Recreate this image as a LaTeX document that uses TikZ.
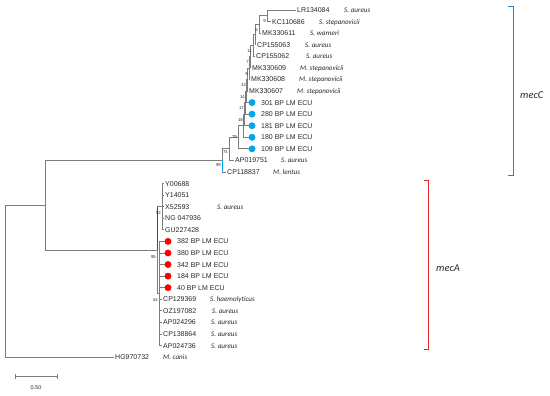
\documentclass[tikz,border=0pt]{standalone}
\usepackage{fontspec}
\setmainfont{Liberation Sans}
\newfontfamily\spfont{Carlito}
\definecolor{treegray}{RGB}{125,125,125}
\definecolor{dotblue}{RGB}{0,166,235}
\definecolor{brblue}{RGB}{35,130,215}
\definecolor{brred}{RGB}{235,35,35}
\definecolor{txt}{RGB}{40,40,40}
\tikzset{
  br/.style={draw=treegray,line width=0.8pt},
  acc/.style={anchor=base west,inner sep=0pt,text=txt,font=\fontsize{7}{8}\selectfont},
  sp/.style={anchor=base west,inner sep=0pt,text=txt,font=\spfont\itshape\fontsize{7.1}{8}\selectfont},
  bs/.style={anchor=east,inner sep=0pt,text=txt,font=\fontsize{4.3}{5}\selectfont},
  dotb/.style={circle,fill=dotblue,inner sep=0pt,minimum size=6.6pt},
  dotr/.style={circle,fill=red,inner sep=0pt,minimum size=6.6pt},
  grp/.style={anchor=west,inner sep=0pt,text=txt,font=\spfont\itshape\fontsize{10.5}{12}\selectfont},
}
\begin{document}
\begin{tikzpicture}[x=1pt,y=-1pt]
\useasboundingbox (0,0) rectangle (550,396);
% ---------- internal nodes ----------
\coordinate (n1) at (267,15.79);
\coordinate (n2) at (259,24.46);
\coordinate (n3) at (255,34.59);
\coordinate (n4) at (253,45.43);
\coordinate (n5) at (250,56.64);
\coordinate (n6) at (249,68.03);
\coordinate (n7) at (247,79.51);
\coordinate (n8) at (246,91.03);
\coordinate (n9) at (245,102.58);
\coordinate (n10) at (244,114.14);
\coordinate (n11) at (243,125.71);
\coordinate (n12) at (238,137.27);
\coordinate (n13) at (229,148.84);
\coordinate (n14) at (222,160.41);
\coordinate (A) at (162,206.69);
\coordinate (B) at (159,293.47);
\coordinate (M) at (157,250.08);
\coordinate (N1) at (45,205.25);
\coordinate (R) at (5,281.18);
% ---------- leaf ends ----------
\coordinate (l0) at (296,10.00);
\coordinate (l1) at (271,21.57);
\coordinate (l2) at (261,33.14);
\coordinate (l3) at (256,44.71);
\coordinate (l4) at (255,56.28);
\coordinate (l5) at (251,67.85);
\coordinate (l6) at (250,79.42);
\coordinate (l7) at (248,90.99);
\node[dotb] (d8) at (252,102.56) {};
\node[dotb] (d9) at (252,114.13) {};
\node[dotb] (d10) at (252,125.70) {};
\node[dotb] (d11) at (252,137.27) {};
\node[dotb] (d12) at (252,148.84) {};
\coordinate (l13) at (234,160.41);
\coordinate (l14) at (226,171.98);
\coordinate (l15) at (164,183.55);
\coordinate (l16) at (164,195.12);
\coordinate (l17) at (164,206.69);
\coordinate (l18) at (164,218.26);
\coordinate (l19) at (164,229.83);
\node[dotr] (d20) at (168,241.40) {};
\node[dotr] (d21) at (168,252.97) {};
\node[dotr] (d22) at (168,264.54) {};
\node[dotr] (d23) at (168,276.11) {};
\node[dotr] (d24) at (168,287.68) {};
\coordinate (l25) at (162,299.25);
\coordinate (l26) at (162,310.82);
\coordinate (l27) at (162,322.39);
\coordinate (l28) at (162,333.96);
\coordinate (l29) at (162,345.53);
\coordinate (l30) at (114,357.10);
% ---------- branches ----------
\begin{scope}[on background layer/.style={}]
\draw[br] (n1) |- (l0) (n1) |- (l1);
\draw[br] (n2) |- (n1) (n2) |- (l2);
\draw[br] (n3) |- (n2) (n3) |- (l3);
\draw[br] (n4) |- (n3) (n4) |- (l4);
\draw[br] (n5) |- (n4) (n5) |- (l5);
\draw[br] (n6) |- (n5) (n6) |- (l6);
\draw[br] (n7) |- (n6) (n7) |- (l7);
\draw[br] (n8) |- (n7) (n8) |- (d8);
\draw[br] (n9) |- (n8) (n9) |- (d9);
\draw[br] (n10) |- (n9) (n10) |- (d10);
\draw[br] (n11) |- (n10) (n11) |- (d11);
\draw[br] (n12) |- (n11) (n12) |- (d12);
\draw[br] (n13) |- (n12) (n13) |- (l13);
\draw[br] (n14) |- (n13) (n14) |- (l14);
\draw[br] (N1) |- (n14) (N1) |- (M);
\draw[br] (R) |- (N1) (R) |- (l30);
\draw[br] (M) |- (A) (M) |- (B);
\draw[br] (A) |- (l15) (A) |- (l16) (A) |- (l17) (A) |- (l18) (A) |- (l19);
\draw[br] (B) |- (d20) (B) |- (d21) (B) |- (d22) (B) |- (d23) (B) |- (d24);
\draw[br] (B) |- (l25) (B) |- (l26) (B) |- (l27) (B) |- (l28) (B) |- (l29);
\end{scope}
\draw[dotblue,line width=0.9pt] (n14) -- (n14 |- l14);
\draw[red,line width=0.9pt] (M) -- (M |- A);
\node[dotb] at (d8) {};\node[dotb] at (d9) {};\node[dotb] at (d10) {};\node[dotb] at (d11) {};\node[dotb] at (d12) {};
\node[dotr] at (d20) {};\node[dotr] at (d21) {};\node[dotr] at (d22) {};\node[dotr] at (d23) {};\node[dotr] at (d24) {};
% ---------- bootstrap values ----------
\node[bs] (b1) at ([shift={(-1,5.5)}]n1) {9};
\node[bs] (b2) at ([shift={(-1,5.5)}]n2) {6};
\node[bs] (b4) at ([shift={(-1,5.5)}]n4) {11};
\node[bs] (b5) at ([shift={(-1,5.5)}]n5) {7};
\node[bs] (b6) at ([shift={(-1,5.5)}]n6) {9};
\node[bs] (b7) at ([shift={(-1,5.5)}]n7) {13};
\node[bs] (b8) at ([shift={(-1,5.5)}]n8) {14};
\node[bs] (b9) at ([shift={(-1,5.5)}]n9) {17};
\node[bs] (b10) at ([shift={(-1,5.5)}]n10) {18};
\node[bs] (b12) at ([shift={(-1,0)}]n12) {79};
\node[bs] (b13) at ([shift={(-1,3.5)}]n13) {74};
\node[bs] (b14) at ([shift={(-1,4.5)}]n14) {99};
\node[bs] (bA) at ([shift={(-1,6)}]A) {52};
\node[bs] (bM) at ([shift={(-1,7)}]M) {95};
\node[bs] (bB) at ([shift={(-1,6.5)}]B) {54};
% ---------- leaf labels ----------
\node[acc] (t0) at (297,12.5) {LR134084};        \node[sp] (s0) at (344,12.5) {S. aureus};
\node[acc] (t1) at (272,24.07) {KC110686};       \node[sp] (s1) at (319,24.07) {S. stepanovicii};
\node[acc] (t2) at (262,35.64) {MK330611};       \node[sp] (s2) at (310,35.64) {S. warneri};
\node[acc] (t3) at (257,47.21) {CP155063};       \node[sp] (s3) at (305,47.21) {S. aureus};
\node[acc] (t4) at (256,58.78) {CP155062};       \node[sp] (s4) at (306,58.78) {S. aureus};
\node[acc] (t5) at (252,70.35) {MK330609};       \node[sp] (s5) at (300,70.35) {M. stepanovicii};
\node[acc] (t6) at (251,81.92) {MK330608};       \node[sp] (s6) at (299,81.92) {M. stepanovicii};
\node[acc] (t7) at (249,93.49) {MK330607};       \node[sp] (s7) at (297,93.49) {M. stepanovicii};
\node[acc] (t8) at (261,105.06) {301 BP LM ECU};
\node[acc] (t9) at (261,116.63) {280 BP LM ECU};
\node[acc] (t10) at (261,128.20) {181 BP LM ECU};
\node[acc] (t11) at (261,139.77) {180 BP LM ECU};
\node[acc] (t12) at (261,151.34) {109 BP LM ECU};
\node[acc] (t13) at (235,162.91) {AP019751};      \node[sp] (s13) at (281,162.91) {S. aureus};
\node[acc] (t14) at (227,174.48) {CP118837};      \node[sp] (s14) at (273,174.48) {M. lentus};
\node[acc] (t15) at (165,186.05) {Y00688};
\node[acc] (t16) at (165,197.62) {Y14051};
\node[acc] (t17) at (165,209.19) {X52593};        \node[sp] (s17) at (217,209.19) {S. aureus};
\node[acc] (t18) at (165,220.76) {NG 047936};
\node[acc] (t19) at (165,232.33) {GU227428};
\node[acc] (t20) at (177,243.90) {382 BP LM ECU};
\node[acc] (t21) at (177,255.47) {380 BP LM ECU};
\node[acc] (t22) at (177,267.04) {342 BP LM ECU};
\node[acc] (t23) at (177,278.61) {184 BP LM ECU};
\node[acc] (t24) at (177,290.18) {40 BP LM ECU};
\node[acc] (t25) at (163,301.75) {CP129369};      \node[sp] (s25) at (210,301.75) {S. haemolyticus};
\node[acc] (t26) at (163,313.32) {OZ197082};      \node[sp] (s26) at (212,313.32) {S. aureus};
\node[acc] (t27) at (163,324.89) {AP024296};      \node[sp] (s27) at (211,324.89) {S. aureus};
\node[acc] (t28) at (163,336.46) {CP138864};      \node[sp] (s28) at (211,336.46) {S. aureus};
\node[acc] (t29) at (163,348.03) {AP024736};      \node[sp] (s29) at (211,348.03) {S. aureus};
\node[acc] (t30) at (115,359.60) {HG970732};      \node[sp] (s30) at (163,359.60) {M. canis};
% ---------- clade brackets ----------
\draw[brblue,line width=0.9pt] (508,6) -- (513,6) -- (513,175) -- (508,175);
\node[grp] (mecC) at (520,95) {mecC};
\draw[brred,line width=0.9pt] (424,180) -- (428,180) -- (428,349) -- (424,349);
\node[grp] (mecA) at (436,268) {mecA};
% ---------- scale bar ----------
\coordinate (sb1) at (15,376);
\coordinate (sb2) at (57,376);
\draw[br] (sb1) -- (sb2);
\draw[br] ([yshift=-2.5]sb1) -- ([yshift=2.5]sb1);
\draw[br] ([yshift=-2.5]sb2) -- ([yshift=2.5]sb2);
\node[inner sep=0pt,text=txt,font=\fontsize{5.5}{6}\selectfont] (sbl) at (36,388) {0.50};
\end{tikzpicture}
\end{document}
